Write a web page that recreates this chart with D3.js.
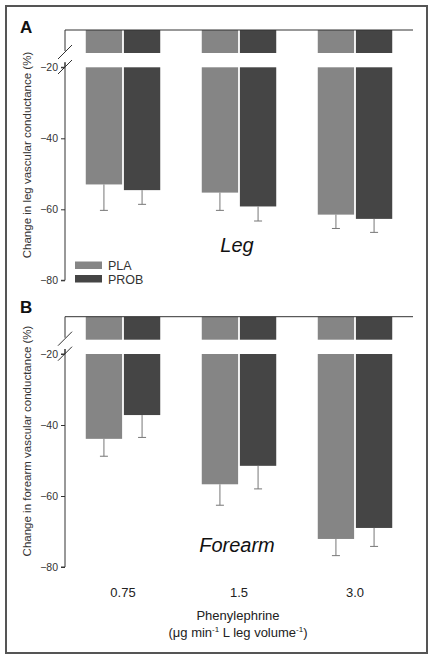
<!DOCTYPE html>
<html>
<head>
<meta charset="utf-8">
<script src="https://cdn.jsdelivr.net/npm/d3@7/dist/d3.min.js"></script>
<style>
  html, body { margin: 0; padding: 0; background: #fff; }
  svg { display: block; font-family: Arial, "Liberation Sans", sans-serif; }
</style>
</head>
<body>
<svg id="chart" width="433" height="660"></svg>
<script>
// ---- data ----
const doses = ["0.75", "1.5", "3.0"];
const groups = ["PLA", "PROB"];
const legPLA = [-53.0, -55.3, -61.5];
const legPLAerr = [7.3, 5.0, 3.9];
const legPROB = [-54.6, -59.2, -62.7];
const legPROBerr = [4.0, 4.1, 3.8];
const armPLA = [-43.9, -56.7, -72.1];
const armPLAerr = [4.9, 5.9, 4.7];
const armPROB = [-37.2, -51.5, -69.0];
const armPROBerr = [6.3, 6.5, 5.2];
const yTicks = [-20, -40, -60, -80];
const colors = { PLA: "#858585", PROB: "#454545" };

const panels = [
  { letter: "A", label: "Change in leg vascular conductance (%)", title: "Leg",
    pla: legPLA, plaErr: legPLAerr, prob: legPROB, probErr: legPROBerr,
    top: 30, y20: 67.3, y80: 280.3, legend: true, titleY: 252, labelY: 155 },
  { letter: "B", label: "Change in forearm vascular conductance (%)", title: "Forearm",
    pla: armPLA, plaErr: armPLAerr, prob: armPROB, probErr: armPROBerr,
    top: 316.7, y20: 354, y80: 567, legend: false, titleY: 552, labelY: 441 }
];

const svg = d3.select("#chart");

// border
svg.append("rect").attr("x", 6).attr("y", 6).attr("width", 421).attr("height", 647)
  .attr("fill", "none").attr("stroke", "#555").attr("stroke-width", 2);

const x0 = d3.scaleBand().domain(doses).range([65, 413]).paddingInner(0.358).paddingOuter(0.179);
const x1 = d3.scaleBand().domain(groups).range([0, x0.bandwidth()]).paddingInner(0.047);

panels.forEach(p => {
  const g = svg.append("g");
  const y = d3.scaleLinear().domain([-20, -80]).range([p.y20, p.y80]);
  const yUp = d3.scaleLinear().domain([0, -5]).range([p.top, p.top + 23]);

  const rows = [];
  doses.forEach((d, i) => {
    rows.push({ dose: d, grp: "PLA", v: p.pla[i], e: p.plaErr[i] });
    rows.push({ dose: d, grp: "PROB", v: p.prob[i], e: p.probErr[i] });
  });

  // upper segment bars
  g.selectAll(".up").data(rows).join("rect")
    .attr("x", d => x0(d.dose) + x1(d.grp))
    .attr("width", x1.bandwidth())
    .attr("y", yUp(0)).attr("height", yUp(-5) - yUp(0))
    .attr("fill", d => colors[d.grp]);

  // lower bars
  g.selectAll(".low").data(rows).join("rect")
    .attr("x", d => x0(d.dose) + x1(d.grp))
    .attr("width", x1.bandwidth())
    .attr("y", y(-20)).attr("height", d => y(d.v) - y(-20))
    .attr("fill", d => colors[d.grp]);

  // error bars
  rows.forEach(d => {
    const cx = x0(d.dose) + x1(d.grp) + x1.bandwidth() / 2;
    g.append("line").attr("x1", cx).attr("x2", cx).attr("y1", y(d.v)).attr("y2", y(d.v - d.e))
      .attr("stroke", "#777").attr("stroke-width", 1);
    g.append("line").attr("x1", cx - 4).attr("x2", cx + 4).attr("y1", y(d.v - d.e)).attr("y2", y(d.v - d.e))
      .attr("stroke", "#777").attr("stroke-width", 1);
  });

  // top line
  g.append("line").attr("x1", 65).attr("x2", 413).attr("y1", p.top).attr("y2", p.top)
    .attr("stroke", "#333").attr("stroke-width", 1);
  // axis upper stub
  g.append("line").attr("x1", 65).attr("x2", 65).attr("y1", p.top).attr("y2", p.top + 21)
    .attr("stroke", "#333").attr("stroke-width", 1);

  // y axis lower
  const axis = d3.axisLeft(y).tickValues(yTicks).tickSize(4).tickPadding(3).tickFormat(d3.format("d"));
  const ag = g.append("g").attr("transform", "translate(65,0)").call(axis);
  ag.select(".domain").attr("d", `M-4,${y(-20)}H0V${p.y20 - 5}V${y(-80)}H-4`).attr("stroke", "#333");
  ag.selectAll(".tick line").attr("stroke", "#333");
  ag.selectAll(".tick text").attr("font-size", 10.5).attr("fill", "#333").attr("font-family", "Arial, 'Liberation Sans', sans-serif");

  // break marks
  [p.top + 22, p.top + 37].forEach(cy => {
    g.append("line").attr("x1", 58).attr("x2", 72).attr("y1", cy + 7).attr("y2", cy - 7)
      .attr("stroke", "#333").attr("stroke-width", 1);
  });

  // panel letter
  g.append("text").attr("x", 20).attr("y", p.top - (p.letter === "A" ? -3 : 3.5)).text(p.letter)
    .attr("font-size", 17).attr("font-weight", "bold").attr("fill", "#111");

  // y label
  g.append("text").attr("transform", `translate(31,${p.labelY}) rotate(-90)`)
    .attr("text-anchor", "middle").attr("font-size", 11.5).attr("fill", "#333").text(p.label);

  // panel title
  g.append("text").attr("x", 237).attr("y", p.titleY).attr("text-anchor", "middle")
    .attr("font-size", 20).attr("font-style", "italic").attr("fill", "#111").text(p.title);

  if (p.legend) {
    const lg = g.append("g");
    groups.forEach((k, i) => {
      lg.append("rect").attr("x", 75).attr("y", 261.5 + i * 13.5).attr("width", 27).attr("height", 7.5)
        .attr("fill", colors[k]);
      lg.append("text").attr("x", 108).attr("y", 270 + i * 13.5).attr("font-size", 12.5)
        .attr("fill", "#333").text(k);
    });
  }
});

// x tick labels
svg.append("g").selectAll("text").data(doses).join("text")
  .attr("x", d => x0(d) + x0.bandwidth() / 2).attr("y", 597)
  .attr("text-anchor", "middle").attr("font-size", 13).attr("fill", "#222").text(d => d);

// x title
svg.append("text").attr("x", 238).attr("y", 620).attr("text-anchor", "middle")
  .attr("font-size", 13).attr("fill", "#222").text("Phenylephrine");
const t2 = svg.append("text").attr("x", 238).attr("y", 637).attr("text-anchor", "middle")
  .attr("font-size", 13).attr("fill", "#222");
t2.append("tspan").text("(μg min");
t2.append("tspan").attr("dy", -5).attr("font-size", 8).text("-1");
t2.append("tspan").attr("dy", 5).text(" L leg volume");
t2.append("tspan").attr("dy", -5).attr("font-size", 8).text("-1");
t2.append("tspan").attr("dy", 5).text(")");
</script>
</body>
</html>
